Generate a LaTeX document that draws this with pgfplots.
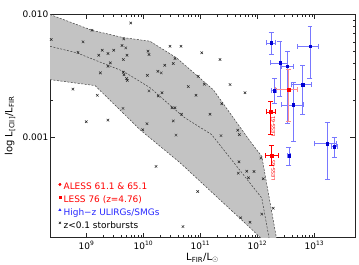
\documentclass[border=0pt]{standalone}
\usepackage{fontspec}
\setmainfont{DejaVu Sans}
\usepackage{pgfplots}
\pgfplotsset{compat=1.18}
\definecolor{bandgray}{RGB}{195,195,195}
\definecolor{ptblue}{RGB}{0,0,210}
\definecolor{errblue}{RGB}{120,120,255}
\definecolor{txtblue}{RGB}{40,40,255}
\definecolor{errpink}{RGB}{255,140,140}
\begin{document}
\begin{tikzpicture}
\begin{axis}[
 name=ax,
 scale only axis, width=305bp, height=223bp,
 xmode=log, ymode=log,
 xmin=2.29e8, xmax=5.14e13, ymin=1.55e-4, ymax=1e-2,
 xtick={1e9,1e10,1e11,1e12,1e13},
 xticklabels={10\textsuperscript{9},10\textsuperscript{10},10\textsuperscript{11},10\textsuperscript{12},10\textsuperscript{13}},
 ytick={1e-3,1e-2}, yticklabels={0.001,0.010},
 tick align=inside, major tick length=5bp, minor tick length=2.5bp,
 ticklabel style={font=\fontsize{9}{11}\selectfont},
 yticklabel style={inner sep=1.5bp},
 xlabel={L\textsubscript{FIR}/L\textsubscript{\(\odot\)}},
 ylabel={log L\textsubscript{[CII]}/L\textsubscript{FIR}},
 label style={font=\fontsize{9}{11}\selectfont},
 every axis x label/.style={at={(rel axis cs:0.5,0)}, yshift=-20.5bp, anchor=center},
 every axis y label/.style={at={(rel axis cs:0,0.5)}, xshift=-40bp, rotate=90, anchor=center},
 axis line style={black!85, line width=0.6pt},
 tick style={black!85, line width=0.5pt},
 legend style={at={(0.023,0.25)}, anchor=north west, draw=none, fill=none,
   font=\fontsize{9}{11}\selectfont, row sep=1.8bp, inner sep=0pt,
   nodes={inner sep=1bp, text height=7bp, text depth=2bp}},
 legend cell align=left,
 legend image code/.code={\path (-2.5bp,0bp) (2.5bp,0bp); \draw[#1] plot coordinates {(0bp,3bp)};},
]
\addlegendimage{only marks, mark=*, red, mark size=1.3pt}
\addlegendentry{\textcolor{red}{ALESS 61.1 \& 65.1}}
\addlegendimage{only marks, mark=square*, red, mark size=1.2pt}
\addlegendentry{\textcolor{red}{LESS 76 (z=4.76)}}
\addlegendimage{only marks, mark=triangle*, txtblue, mark size=1.4pt}
\addlegendentry{\textcolor{txtblue}{High−z ULIRGs/SMGs}}
\addlegendimage{only marks, mark=x, black, mark size=1.6pt}
\addlegendentry{z<0.1 storbursts}

% shaded band
\addplot[forget plot, fill=bandgray, draw=none] table {
x y
2.29e8 1.00e-2
1.247e9 7.45e-3
4.37e9 6.50e-3
1.30e10 6.07e-3
3.80e10 4.45e-3
1.68e11 2.45e-3
7.38e11 9.40e-4
1.19e12 7.05e-4
2.17e12 1.50e-4
1.20e12 1.50e-4
7.41e11 1.86e-4
4.37e10 6.27e-4
8.71e9 1.16e-3
4.43e9 1.58e-3
1.41e9 2.65e-3
2.29e8 2.96e-3
};
\addplot[forget plot, black!75, line width=0.5pt, dash pattern=on 2pt off 1.5pt] table {
x y
2.29e8 1.00e-2
1.247e9 7.45e-3
4.37e9 6.50e-3
1.30e10 6.07e-3
3.80e10 4.45e-3
1.68e11 2.45e-3
7.38e11 9.40e-4
1.19e12 7.05e-4
2.17e12 1.50e-4
};
\addplot[forget plot, black!75, line width=0.5pt, dash pattern=on 2pt off 1.5pt] table {
x y
2.29e8 2.96e-3
1.41e9 2.65e-3
4.43e9 1.58e-3
8.71e9 1.16e-3
4.37e10 6.27e-4
7.41e11 1.86e-4
1.20e12 1.50e-4
};
\addplot[forget plot, black!75, line width=0.5pt, dash pattern=on 2pt off 1.5pt] table {
x y
2.29e8 5.52e-3
6.73e8 4.89e-3
4.43e9 3.46e-3
1.30e10 2.55e-3
4.99e10 1.48e-3
1.57e11 1.06e-3
3.30e11 6.87e-4
1.19e12 3.24e-4
1.61e12 1.50e-4
};

% local starbursts
\addplot[forget plot, only marks, mark=x, mark size=1.8pt, black!85, line width=0.5pt] table {
x y
5.96e9 8.53e-3
1.247e9 7.45e-3
2.40e8 6.27e-3
8.69e8 6.00e-3
4.50e9 6.34e-3
4.20e9 5.60e-3
4.88e9 5.36e-3
1.89e9 5.13e-3
3.00e9 5.13e-3
2.38e9 4.82e-3
1.64e9 4.67e-3
7.10e8 4.93e-3
5.14e9 4.67e-3
4.43e9 4.31e-3
1.20e10 5.04e-3
1.25e10 4.73e-3
2.62e9 4.05e-3
2.38e9 3.80e-3
1.75e9 3.36e-3
4.43e9 3.40e-3
4.55e9 3.25e-3
5.07e9 3.02e-3
5.20e9 2.92e-3
1.17e10 3.21e-3
5.79e8 2.48e-3
2.92e10 5.52e-3
4.55e10 5.52e-3
1.05e11 4.89e-3
2.20e11 4.31e-3
3.57e10 4.39e-3
3.33e10 4.00e-3
2.36e10 3.87e-3
1.79e10 3.46e-3
2.05e10 3.36e-3
9.14e10 3.15e-3
1.17e11 2.72e-3
6.11e10 2.60e-3
3.30e11 2.70e-3
1.55e9 2.21e-3
4.37e9 1.73e-3
2.38e9 1.39e-3
9.91e8 1.35e-3
1.25e10 2.40e-3
1.15e10 1.30e-3
9.68e9 1.16e-3
2.11e10 2.32e-3
1.82e10 2.18e-3
8.34e10 2.21e-3
6.04e11 2.32e-3
2.36e11 1.89e-3
3.16e10 1.75e-3
3.57e10 1.75e-3
4.65e10 1.55e-3
1.47e11 1.55e-3
3.33e10 1.37e-3
3.72e10 1.05e-3
2.29e11 1.04e-3
4.50e11 1.15e-3
4.80e11 1.06e-3
4.73e11 6.38e-4
1.66e10 5.85e-4
4.60e11 5.16e-4
6.47e11 5.35e-4
8.69e11 5.32e-4
6.95e11 4.73e-4
1.15e12 6.84e-4
1.26e12 4.65e-4
1.89e12 2.68e-4
1.19e12 2.40e-4
5.07e11 2.24e-4
7.38e11 2.06e-4
8.93e10 3.66e-4
4.93e10 1.90e-4
};

% high-z ULIRGs / SMGs
\addplot[forget plot, only marks, mark=square*, mark size=1.2pt, ptblue,
  error bars/.cd, x dir=both, x explicit, y dir=both, y explicit,
  error bar style={errblue, line width=0.6pt},
  error mark options={errblue, mark size=2.5pt, line width=0.6pt, rotate=90}]
 table[x=x, y=y, x error minus=xm, x error plus=xp, y error minus=ym, y error plus=yp] {
x y xm xp ym yp
1.73e12 5.89e-3 0.28e12 0.35e12 1.16e-3 1.32e-3
2.48e12 4.05e-3 0.77e12 0.86e12 1.90e-3 2.02e-3
3.36e12 3.80e-3 0.70e12 0.89e12 2.48e-3 1.24e-3
8.34e12 5.52e-3 3.35e12 3.33e12 2.47e-3 2.57e-3
6.21e12 2.70e-3 2.23e12 2.72e12 1.16e-3 1.17e-3
1.97e12 2.41e-3 0.20e12 0.20e12 0.52e-3 0.64e-3
4.25e12 1.85e-3 1.59e12 2.03e12 0.92e-3 0.97e-3
3.57e12 7.14e-4 0.24e12 0.26e12 1.17e-4 1.24e-4
1.66e13 8.93e-4 0.67e13 0.72e13 4.37e-4 4.47e-4
2.22e13 8.45e-4 0.22e13 0.29e13 1.52e-4 1.65e-4
};

% LESS 76
\addplot[forget plot, only marks, mark=square*, mark size=1.5pt, red,
  error bars/.cd, x dir=both, x explicit, y dir=both, y explicit,
  error bar style={errpink, line width=0.7pt},
  error mark options={errpink, mark size=2.5pt, line width=0.7pt, rotate=90}]
 table[x=x, y=y, x error minus=xm, x error plus=xp, y error minus=ym, y error plus=yp] {
x y xm xp ym yp
3.47e12 2.45e-3 1.44e12 1.52e12 1.09e-3 1.12e-3
};

% ALESS 61.1 and 65.1
\addplot[forget plot, only marks, mark=square*, mark size=1.4pt, red,
  error bars/.cd, x dir=both, x explicit, y dir=both, y explicit,
  error bar style={red, line width=0.6pt},
  error mark options={red, mark size=2.5pt, line width=0.6pt, rotate=90}]
 table[x=x, y=y, x error minus=xm, x error plus=xp, y error minus=ym, y error plus=yp] {
x y xm xp ym yp
1.71e12 1.62e-3 0.30e12 0.36e12 0.56e-3 0.35e-3
1.75e12 7.14e-4 0.39e12 0.54e12 1.22e-4 1.47e-4
};
\node[rotate=90, anchor=east, inner sep=0pt, text=red, font=\fontsize{5}{6}\selectfont] at (axis cs:1.89e12,1.51e-3) {LESS-61};
\node[rotate=90, anchor=east, inner sep=0pt, text=red, font=\fontsize{5}{6}\selectfont] at (axis cs:1.89e12,6.62e-4) {LESS-65};
\end{axis}
\pgfresetboundingbox
\path ([shift={(-50bp,-27.5bp)}]ax.south west) rectangle ([shift={(4bp,14.5bp)}]ax.north east);
\end{tikzpicture}
\end{document}
